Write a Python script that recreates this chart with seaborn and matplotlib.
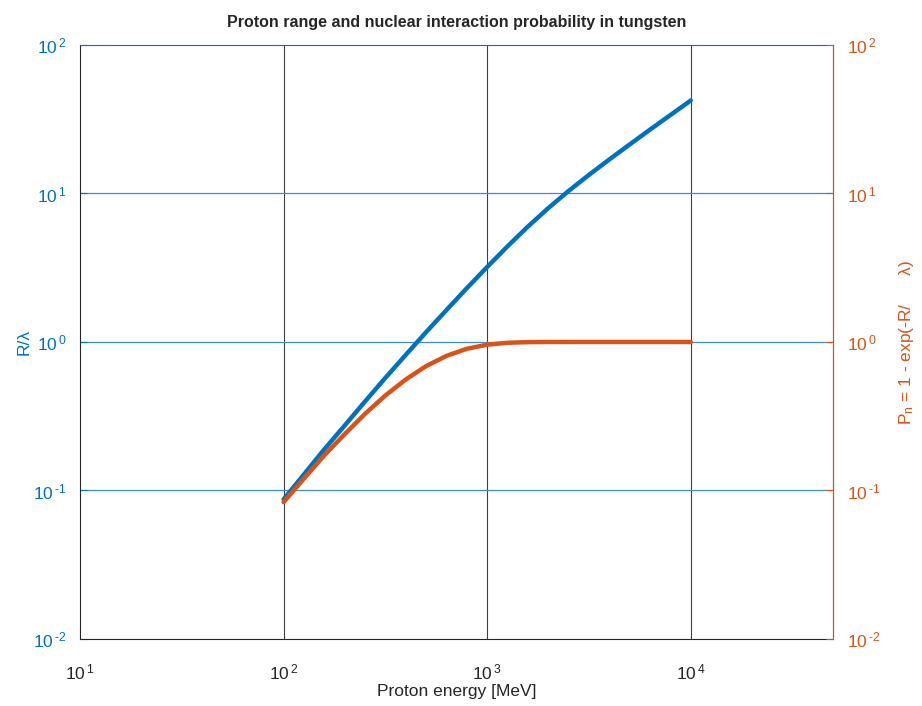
import matplotlib
matplotlib.use('Agg')
import matplotlib.pyplot as plt
import matplotlib.ticker as mticker
import numpy as np
import pandas as pd
import seaborn as sns

# values (energy in MeV)
energy_mev = [100, 126, 158, 200, 251, 316, 398, 501, 631, 794, 1000,
              1259, 1585, 1995, 2512, 3162, 3981, 5012, 6310, 7943, 10000]
range_over_lambda = [0.0871, 0.1285, 0.1884, 0.2748, 0.3972, 0.5728, 0.8185, 1.164, 1.641, 2.301, 3.199,
                     4.406, 5.984, 7.962, 10.40, 13.34, 16.94, 21.38, 26.92, 33.73, 42.27]
p_nuclear = [0.0834, 0.1206, 0.1717, 0.2403, 0.3278, 0.4361, 0.5589, 0.6878, 0.8062, 0.8998, 0.9592,
             0.9878, 0.9975, 0.9997, 1.0, 1.0, 1.0, 1.0, 1.0, 1.0, 1.0]

x_ticks = [10, 100, 1000, 10000]
y_ticks = [0.01, 0.1, 1, 10, 100]

blue = '#0072BD'
orange = '#D95319'

sns.set_style('white')
plt.rcParams['font.family'] = ['Liberation Sans', 'DejaVu Sans']
plt.rcParams['mathtext.fontset'] = 'custom'
plt.rcParams['mathtext.rm'] = 'Liberation Sans'
plt.rcParams['mathtext.it'] = 'Liberation Sans'

df = pd.DataFrame({'E': energy_mev, 'R': range_over_lambda, 'P': p_nuclear})

fig = plt.figure(figsize=(9.22, 7.06), dpi=100)
ax = fig.add_axes([0.0868, 0.0949, 0.8167, 0.8414])
ax2 = ax.twinx()

sns.lineplot(data=df, x='E', y='R', ax=ax, color=blue, linewidth=3.2)
sns.lineplot(data=df, x='E', y='P', ax=ax2, color=orange, linewidth=3.2)


def pow10(v, pos):
    # MATLAB style: 10 with a raised exponent, plain hyphen for minus
    e = int(round(np.log10(v)))
    s = ('\\text{-}%d' % -e) if e < 0 else '%d' % e
    return r'$\mathregular{10^{\,%s}}$' % s


for a in (ax, ax2):
    a.set_xscale('log')
    a.set_yscale('log')
    a.set_xlim(10, 5e4)
    a.set_ylim(0.01, 100)
    a.set_xticks(x_ticks)
    a.set_yticks(y_ticks)
    a.xaxis.set_minor_locator(mticker.NullLocator())
    a.yaxis.set_minor_locator(mticker.NullLocator())
    a.xaxis.set_major_formatter(mticker.FuncFormatter(pow10))
    a.yaxis.set_major_formatter(mticker.FuncFormatter(pow10))
    a.set_xlabel('')
    a.set_ylabel('')

# grid: dark vertical, blue horizontal
for xv in x_ticks[1:]:
    ax.axvline(xv, color='#404040', linewidth=0.8, zorder=0)
for yv in y_ticks[1:-1]:
    ax.axhline(yv, color='#3b8ed0', linewidth=0.9, zorder=0)

ax.tick_params(axis='x', direction='in', length=5, width=0.8, colors='#262626',
               labelsize=12.5, pad=17, top=False)
ax.tick_params(axis='y', direction='in', length=5, width=0.8, colors=blue,
               labelsize=12.5, pad=10)
ax2.tick_params(axis='y', direction='in', length=5, width=0.8, colors=orange,
                labelsize=12.5, pad=10)

ax.spines['left'].set_color('#262626')
ax.spines['bottom'].set_color('#262626')
ax.spines['top'].set_color(blue)
ax2.spines['right'].set_color(orange)
ax2.spines['left'].set_visible(False)
ax2.spines['top'].set_visible(False)
ax2.spines['bottom'].set_visible(False)
for s in ax.spines.values():
    s.set_linewidth(0.8)
ax2.spines['right'].set_linewidth(0.8)

ax.set_xlabel('Proton energy [MeV]', fontsize=12.5, color='#262626', labelpad=1)
ax.set_ylabel('R/λ', fontsize=12.5, color=blue, labelpad=1)
ax2.set_ylabel(r'P$_\mathregular{n}$ = 1 - exp(-R/      λ)', fontsize=12.5, color=orange,
               labelpad=12, rotation=90)
ax.set_title('Proton range and nuclear interaction probability in tungsten',
             fontsize=11.5, fontweight='bold', pad=13)

fig.savefig('out.png', dpi=100)
